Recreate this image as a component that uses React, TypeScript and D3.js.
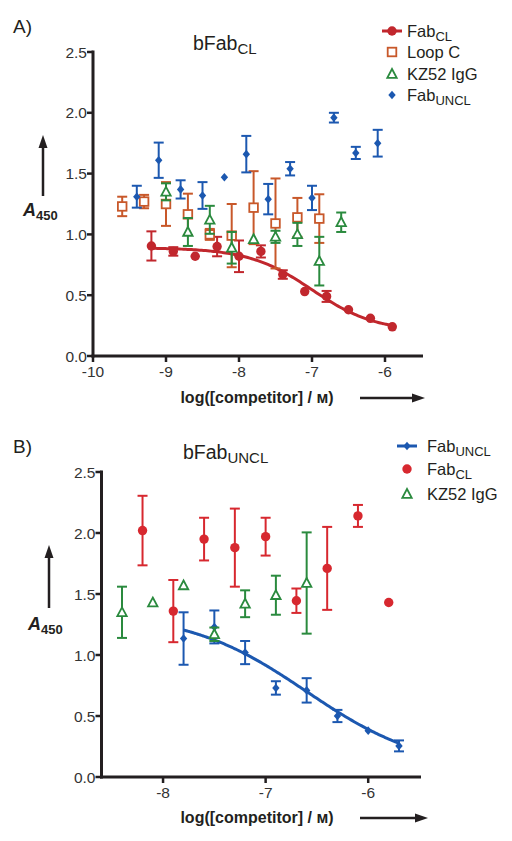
import React from "react";
import * as d3 from "d3";

const FONT = "'Liberation Sans', Arial, Helvetica, sans-serif";

// ---------- Panel A data (bFab_CL) ----------
const aFabCLx = [-9.2, -8.9, -8.6, -8.3, -8.0, -7.7, -7.4, -7.1, -6.8, -6.5, -6.2, -5.9];
const aFabCLy = [0.905, 0.86, 0.82, 0.9, 0.82, 0.86, 0.67, 0.53, 0.49, 0.38, 0.31, 0.24];
const aFabCLerr = [0.12, 0.035, 0, 0.08, 0.13, 0.05, 0.035, 0, 0.045, 0, 0, 0];

const aLoopCx = [-9.6, -9.3, -9.0, -8.7, -8.4, -8.1, -7.8, -7.5, -7.2, -6.9];
const aLoopCy = [1.23, 1.27, 1.25, 1.165, 1.0, 0.99, 1.22, 1.09, 1.14, 1.13];
const aLoopCerr = [0.08, 0.055, 0.18, 0.17, 0.045, 0.26, 0.3, 0.37, 0.16, 0.2];

const aKZ52x = [-9.0, -8.7, -8.4, -8.1, -7.8, -7.5, -7.2, -6.9, -6.6];
const aKZ52y = [1.35, 1.02, 1.12, 0.89, 0.96, 0.98, 1.0, 0.78, 1.1];
const aKZ52err = [0.07, 0.115, 0.115, 0.13, 0, 0.05, 0.095, 0.2, 0.08];

const aFabUNCLx = [-9.4, -9.1, -8.8, -8.5, -8.2, -7.9, -7.6, -7.3, -7.0, -6.7, -6.4, -6.1];
const aFabUNCLy = [1.31, 1.61, 1.37, 1.32, 1.47, 1.66, 1.29, 1.54, 1.3, 1.96, 1.67, 1.75];
const aFabUNCLerr = [0.09, 0.145, 0.075, 0.11, 0, 0.15, 0.125, 0.055, 0.1, 0.04, 0.05, 0.11];

// fitted curve parameters for Fab_CL (panel A)
const aFitTop = 0.89;
const aFitBottom = 0.2;
const aFitLogEC50 = -7.0;
const aFitHill = 1.0;
const aFitRange = [-9.2, -5.9];

// ---------- Panel B data (bFab_UNCL) ----------
const bFabUNCLx = [-7.8, -7.5, -7.2, -6.9, -6.6, -6.3, -6.0, -5.7];
const bFabUNCLy = [1.135, 1.23, 1.02, 0.73, 0.71, 0.5, 0.38, 0.255];
const bFabUNCLerr = [0.215, 0.135, 0.095, 0.055, 0.1, 0.05, 0, 0.045];

const bFabCLx = [-8.2, -7.9, -7.6, -7.3, -7.0, -6.7, -6.4, -6.1, -5.8];
const bFabCLy = [2.02, 1.36, 1.95, 1.88, 1.97, 1.445, 1.71, 2.14, 1.43];
const bFabCLerr = [0.285, 0.255, 0.175, 0.32, 0.155, 0.1, 0.34, 0.09, 0];

const bKZ52x = [-8.4, -8.1, -7.8, -7.5, -7.2, -6.9, -6.6];
const bKZ52y = [1.35, 1.43, 1.57, 1.17, 1.42, 1.49, 1.59];
const bKZ52err = [0.21, 0, 0, 0.055, 0.11, 0.16, 0.415];

// fitted curve parameters for Fab_UNCL (panel B)
const bFitTop = 1.35;
const bFitBottom = 0.05;
const bFitLogEC50 = -6.6;
const bFitHill = 0.75;
const bFitRange = [-7.8, -5.7];

// ticks
const aXTicks = [-10, -9, -8, -7, -6];
const bXTicks = [-8, -7, -6];
const yTicks = [0, 0.5, 1.0, 1.5, 2.0, 2.5];

const C_DKRED = "#c1272d";
const C_RED = "#d7282f";
const C_ORANGE = "#c8582a";
const C_GREEN = "#2a8a3e";
const C_BLUE = "#1c58b0";
const C_AXIS = "#231f20";

type Shape = "circle" | "square" | "triangle" | "diamond";

function Marker({ shape, x, y, color }: { shape: Shape; x: number; y: number; color: string }) {
  if (shape === "circle") return <circle cx={x} cy={y} r={4.7} fill={color} />;
  if (shape === "square")
    return <rect x={x - 4.3} y={y - 4.3} width={8.6} height={8.6} fill="#fff" stroke={color} strokeWidth={1.8} />;
  if (shape === "triangle")
    return (
      <path
        d={`M${x},${y - 5}L${x + 4.7},${y + 3.8}L${x - 4.7},${y + 3.8}Z`}
        fill="#fff"
        stroke={color}
        strokeWidth={1.8}
      />
    );
  return <path d={`M${x},${y - 4.3}L${x + 3.7},${y}L${x},${y + 4.3}L${x - 3.7},${y}Z`} fill={color} />;
}

type Series = { xs: number[]; ys: number[]; errs: number[]; shape: Shape; color: string };

function SeriesMarks({ s, x, y }: { s: Series; x: d3.ScaleLinear<number, number>; y: d3.ScaleLinear<number, number> }) {
  return (
    <g>
      {s.xs.map((xv, i) => {
        const px = x(xv);
        const py = y(s.ys[i]);
        const e = s.errs[i];
        return (
          <g key={i}>
            {e > 0 && (
              <g stroke={s.color} strokeWidth={2} fill="none">
                <line x1={px} x2={px} y1={y(s.ys[i] + e)} y2={y(s.ys[i] - e)} />
                <line x1={px - 5} x2={px + 5} y1={y(s.ys[i] + e)} y2={y(s.ys[i] + e)} />
                <line x1={px - 5} x2={px + 5} y1={y(s.ys[i] - e)} y2={y(s.ys[i] - e)} />
              </g>
            )}
            <Marker shape={s.shape} x={px} y={py} color={s.color} />
          </g>
        );
      })}
    </g>
  );
}

function fitCurve(top: number, bottom: number, logEC50: number, hill: number, range: number[]) {
  const xs = d3.range(range[0], range[1] + 1e-9, (range[1] - range[0]) / 120);
  return xs.map((v) => [v, bottom + (top - bottom) / (1 + Math.pow(10, hill * (v - logEC50)))] as [number, number]);
}

type LegendItem = { label: string; sub?: string; shape: Shape; color: string; line?: boolean };

function Panel(props: {
  letter: string;
  letterY: number;
  title: string;
  titleSub: string;
  titleX: number;
  titleY: number;
  xDomain: [number, number];
  xRange: [number, number];
  yRange: [number, number];
  xTicks: number[];
  series: Series[];
  fit: [number, number][];
  fitColor: string;
  legend: LegendItem[];
  legendSymX: number;
  legendTextX: number;
  legendBaselines: number[];
  yArrowX: number;
  yArrowTop: number;
  yArrowBottom: number;
  yLabelX: number;
  yLabelY: number;
  xTitleY: number;
  xArrow: [number, number, number];
}) {
  const x = d3.scaleLinear().domain(props.xDomain).range(props.xRange);
  const y = d3.scaleLinear().domain([0, 2.5]).range(props.yRange);
  const x0 = props.xRange[0];
  const y0 = props.yRange[0];
  const line = d3
    .line<[number, number]>()
    .x((d) => x(d[0]))
    .y((d) => y(d[1]))
    .curve(d3.curveBasis);
  const fmt = d3.format(".1f");
  const [ax1, ax2, ay] = props.xArrow;
  return (
    <g fontFamily={FONT}>
      <text x={13} y={props.letterY} fontSize={19} fill="#231f20">
        {props.letter}
      </text>
      <text x={props.titleX} y={props.titleY} fontSize={19.5} fill="#231f20">
        {props.title}
        <tspan fontSize={15} dy={4}>
          {props.titleSub}
        </tspan>
      </text>

      {/* axes */}
      <g stroke={C_AXIS} strokeWidth={3} fill="none" strokeLinecap="square">
        <line x1={x0} x2={x0} y1={props.yRange[1]} y2={y0} />
        <line x1={x0} x2={props.xRange[1]} y1={y0} y2={y0} />
      </g>
      {yTicks.map((t) => (
        <g key={t}>
          <line x1={x0 - 6} x2={x0} y1={y(t)} y2={y(t)} stroke={C_AXIS} strokeWidth={2.5} />
          <text x={x0 - 6} y={y(t) + 5.5} fontSize={15.5} textAnchor="end" fill="#333">
            {fmt(t)}
          </text>
        </g>
      ))}
      {props.xTicks.map((t) => (
        <g key={t}>
          <line x1={x(t)} x2={x(t)} y1={y0} y2={y0 + 6} stroke={C_AXIS} strokeWidth={2.5} />
          <text x={x(t)} y={y0 + 21} fontSize={15.5} textAnchor="middle" fill="#333">
            {String(t)}
          </text>
        </g>
      ))}

      {/* x axis title + arrow */}
      <text x={257} y={props.xTitleY} fontSize={16} fontWeight="bold" textAnchor="middle" fill="#231f20">
        log([competitor] / м)
      </text>
      <line x1={ax1} x2={ax2 - 10} y1={ay} y2={ay} stroke={C_AXIS} strokeWidth={2.5} />
      <path d={`M${ax2},${ay}L${ax2 - 13},${ay - 4.5}L${ax2 - 13},${ay + 4.5}Z`} fill={C_AXIS} />

      {/* y axis label + arrow */}
      <line
        x1={props.yArrowX}
        x2={props.yArrowX}
        y1={props.yArrowBottom}
        y2={props.yArrowTop + 10}
        stroke={C_AXIS}
        strokeWidth={2.5}
      />
      <path
        d={`M${props.yArrowX},${props.yArrowTop}L${props.yArrowX - 4.5},${props.yArrowTop + 13}L${props.yArrowX + 4.5},${props.yArrowTop + 13}Z`}
        fill={C_AXIS}
      />
      <text x={props.yLabelX} y={props.yLabelY} fontSize={18} fontWeight="bold" fill="#231f20">
        <tspan fontStyle="italic">A</tspan>
        <tspan fontSize={13} dy={4}>
          450
        </tspan>
      </text>

      {/* data */}
      <path d={line(props.fit) || ""} fill="none" stroke={props.fitColor} strokeWidth={3} />
      {props.series.map((s, i) => (
        <SeriesMarks key={i} s={s} x={x} y={y} />
      ))}

      {/* legend */}
      {props.legend.map((l, i) => {
        const by = props.legendBaselines[i];
        const sy = by - 6;
        return (
          <g key={i}>
            {l.line && (
              <line
                x1={props.legendSymX - 10}
                x2={props.legendSymX + 10}
                y1={sy}
                y2={sy}
                stroke={l.color}
                strokeWidth={3}
              />
            )}
            <Marker shape={l.shape} x={props.legendSymX} y={sy} color={l.color} />
            <text x={props.legendTextX} y={by} fontSize={16.5} fill="#231f20">
              {l.label}
              {l.sub && (
                <tspan fontSize={13} dy={4}>
                  {l.sub}
                </tspan>
              )}
            </text>
          </g>
        );
      })}
    </g>
  );
}

export default function App() {
  const aSeries: Series[] = [
    { xs: aFabCLx, ys: aFabCLy, errs: aFabCLerr, shape: "circle", color: C_DKRED },
    { xs: aLoopCx, ys: aLoopCy, errs: aLoopCerr, shape: "square", color: C_ORANGE },
    { xs: aKZ52x, ys: aKZ52y, errs: aKZ52err, shape: "triangle", color: C_GREEN },
    { xs: aFabUNCLx, ys: aFabUNCLy, errs: aFabUNCLerr, shape: "diamond", color: C_BLUE },
  ];
  const bSeries: Series[] = [
    { xs: bFabUNCLx, ys: bFabUNCLy, errs: bFabUNCLerr, shape: "diamond", color: C_BLUE },
    { xs: bFabCLx, ys: bFabCLy, errs: bFabCLerr, shape: "circle", color: C_RED },
    { xs: bKZ52x, ys: bKZ52y, errs: bKZ52err, shape: "triangle", color: C_GREEN },
  ];
  return (
    <svg
      width={512}
      height={841}
      viewBox="0 0 512 841"
      style={{ position: "absolute", left: 0, top: 0, background: "#fff" }}
    >
      <rect width={512} height={841} fill="#fff" />
      <Panel
        letter="A)"
        letterY={33}
        title="bFab"
        titleSub="CL"
        titleX={193}
        titleY={50}
        xDomain={[-10, -5.5]}
        xRange={[93, 421.5]}
        yRange={[356, 52]}
        xTicks={aXTicks}
        series={aSeries}
        fit={fitCurve(aFitTop, aFitBottom, aFitLogEC50, aFitHill, aFitRange)}
        fitColor={C_DKRED}
        legend={[
          { label: "Fab", sub: "CL", shape: "circle", color: C_DKRED, line: true },
          { label: "Loop C", shape: "square", color: C_ORANGE },
          { label: "KZ52 IgG", shape: "triangle", color: C_GREEN },
          { label: "Fab", sub: "UNCL", shape: "diamond", color: C_BLUE },
        ]}
        legendSymX={392}
        legendTextX={407}
        legendBaselines={[37, 58, 80, 101]}
        yArrowX={43}
        yArrowTop={135}
        yArrowBottom={196}
        yLabelX={23}
        yLabelY={216}
        xTitleY={403}
        xArrow={[360, 425, 398]}
      />
      <Panel
        letter="B)"
        letterY={453}
        title="bFab"
        titleSub="UNCL"
        titleX={183}
        titleY={459}
        xDomain={[-8.6, -5.5]}
        xRange={[101.5, 419.5]}
        yRange={[777, 472]}
        xTicks={bXTicks}
        series={bSeries}
        fit={fitCurve(bFitTop, bFitBottom, bFitLogEC50, bFitHill, bFitRange)}
        fitColor={C_BLUE}
        legend={[
          { label: "Fab", sub: "UNCL", shape: "diamond", color: C_BLUE, line: true },
          { label: "Fab", sub: "CL", shape: "circle", color: C_RED },
          { label: "KZ52 IgG", shape: "triangle", color: C_GREEN },
        ]}
        legendSymX={407}
        legendTextX={427}
        legendBaselines={[452, 475, 500]}
        yArrowX={49}
        yArrowTop={545}
        yArrowBottom={608}
        yLabelX={28}
        yLabelY={630}
        xTitleY={823}
        xArrow={[360, 428, 818]}
      />
    </svg>
  );
}
